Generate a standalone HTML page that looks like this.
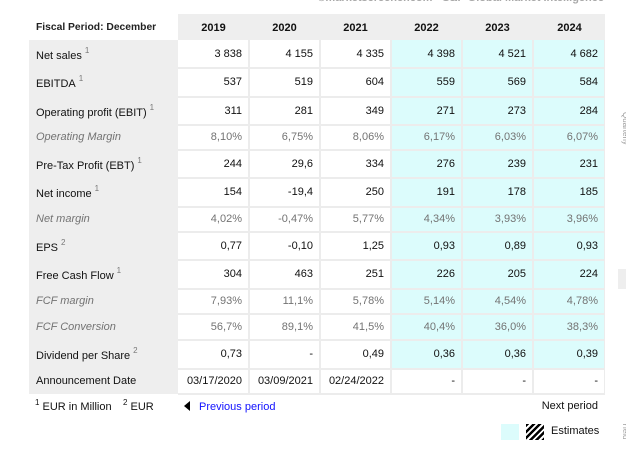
<!DOCTYPE html>
<html>
<head>
<meta charset="utf-8">
<style>
  html,body{margin:0;padding:0}
  body{width:626px;height:454px;position:relative;overflow:hidden;background:#fff;
       font-family:"Liberation Sans",Arial,sans-serif;font-size:11px;color:#111}
  .a{position:absolute}
  .r{position:absolute;left:0;width:626px}
  .r>div{position:absolute;top:0;height:100%;display:flex;align-items:center;line-height:13px;white-space:nowrap}
  .l{left:36px}
  .lb{padding-top:4px;box-sizing:border-box}
  .s{font-size:8px;color:#777;position:relative;top:-6px;margin-left:3px;line-height:0;vertical-align:baseline}
  .c1{right:384px}.c2{right:313px}.c3{right:242px}.c4{right:171px}.c5{right:100px}.c6{right:28px}
  .it{color:#737373}
  .it .l{font-style:italic}
  .hd>div.y{width:71px;justify-content:center;font-weight:bold;padding-top:3px;box-sizing:border-box;color:#111}
  .h{position:absolute;left:178px;width:427px;height:2px;background:#ececec}
  .vl{position:absolute;top:40px;height:354px;width:2px;background:#ececec}
</style>
</head>
<body>
  <!-- cut top source text -->
  <div class="a" style="top:-8px;right:22px;font-weight:bold;font-size:11px;color:#a8a8a8;line-height:13px;white-space:nowrap">©marketscreener.com - S&amp;P Global Market Intelligence</div>

  <!-- backgrounds -->
  <div class="a" style="left:29px;top:40px;width:149px;height:354px;background:#eeeeee"></div>
  <div class="a" style="left:178px;top:14px;width:427px;height:26px;background:#eeeeee"></div>
  <div class="a" style="left:391px;top:40px;width:214px;height:329px;background:#dcfcfc"></div>

  <!-- grid lines -->
  <div class="h" style="top:67px"></div>
  <div class="h" style="top:96px"></div>
  <div class="h" style="top:124px"></div>
  <div class="h" style="top:149px"></div>
  <div class="h" style="top:177px"></div>
  <div class="h" style="top:206px"></div>
  <div class="h" style="top:231px"></div>
  <div class="h" style="top:259px"></div>
  <div class="h" style="top:288px"></div>
  <div class="h" style="top:313px"></div>
  <div class="h" style="top:339px"></div>
  <div class="h" style="top:368px"></div>
  <div class="h" style="top:393px"></div>
  <div class="vl" style="left:248px"></div>
  <div class="vl" style="left:319px"></div>
  <div class="vl" style="left:390px"></div>
  <div class="vl" style="left:461px"></div>
  <div class="vl" style="left:532px"></div>
  <div class="vl" style="left:604px;width:1px"></div>

  <!-- header -->
  <div class="r hd" style="top:14px;height:26px">
    <div class="l" style="font-weight:bold;font-size:10.3px;color:#222">Fiscal Period: December</div>
    <div class="y" style="left:178px">2019</div>
    <div class="y" style="left:249px">2020</div>
    <div class="y" style="left:320px">2021</div>
    <div class="y" style="left:391px">2022</div>
    <div class="y" style="left:462px">2023</div>
    <div class="y" style="left:534px">2024</div>
  </div>

  <div class="r" style="top:40px;height:28px">
    <div class="l lb"><span>Net sales<span class="s">1</span></span></div>
    <div class="c1">3 838</div><div class="c2">4 155</div><div class="c3">4 335</div>
    <div class="c4">4 398</div><div class="c5">4 521</div><div class="c6">4 682</div>
  </div>

  <div class="r" style="top:68px;height:29px">
    <div class="l lb"><span>EBITDA<span class="s">1</span></span></div>
    <div class="c1">537</div><div class="c2">519</div><div class="c3">604</div>
    <div class="c4">559</div><div class="c5">569</div><div class="c6">584</div>
  </div>

  <div class="r" style="top:97px;height:28px">
    <div class="l lb"><span>Operating profit (EBIT)<span class="s">1</span></span></div>
    <div class="c1">311</div><div class="c2">281</div><div class="c3">349</div>
    <div class="c4">271</div><div class="c5">273</div><div class="c6">284</div>
  </div>

  <div class="r it" style="top:125px;height:25px">
    <div class="l"><span>Operating Margin</span></div>
    <div class="c1">8,10%</div><div class="c2">6,75%</div><div class="c3">8,06%</div>
    <div class="c4">6,17%</div><div class="c5">6,03%</div><div class="c6">6,07%</div>
  </div>

  <div class="r" style="top:150px;height:28px">
    <div class="l lb"><span>Pre-Tax Profit (EBT)<span class="s">1</span></span></div>
    <div class="c1">244</div><div class="c2">29,6</div><div class="c3">334</div>
    <div class="c4">276</div><div class="c5">239</div><div class="c6">231</div>
  </div>

  <div class="r" style="top:178px;height:29px">
    <div class="l lb"><span>Net income<span class="s">1</span></span></div>
    <div class="c1">154</div><div class="c2">-19,4</div><div class="c3">250</div>
    <div class="c4">191</div><div class="c5">178</div><div class="c6">185</div>
  </div>

  <div class="r it" style="top:207px;height:25px">
    <div class="l"><span>Net margin</span></div>
    <div class="c1">4,02%</div><div class="c2">-0,47%</div><div class="c3">5,77%</div>
    <div class="c4">4,34%</div><div class="c5">3,93%</div><div class="c6">3,96%</div>
  </div>

  <div class="r" style="top:232px;height:28px">
    <div class="l lb"><span>EPS<span class="s">2</span></span></div>
    <div class="c1">0,77</div><div class="c2">-0,10</div><div class="c3">1,25</div>
    <div class="c4">0,93</div><div class="c5">0,89</div><div class="c6">0,93</div>
  </div>

  <div class="r" style="top:260px;height:29px">
    <div class="l lb"><span>Free Cash Flow<span class="s">1</span></span></div>
    <div class="c1">304</div><div class="c2">463</div><div class="c3">251</div>
    <div class="c4">226</div><div class="c5">205</div><div class="c6">224</div>
  </div>

  <div class="r it" style="top:289px;height:25px">
    <div class="l"><span>FCF margin</span></div>
    <div class="c1">7,93%</div><div class="c2">11,1%</div><div class="c3">5,78%</div>
    <div class="c4">5,14%</div><div class="c5">4,54%</div><div class="c6">4,78%</div>
  </div>

  <div class="r it" style="top:314px;height:26px">
    <div class="l"><span>FCF Conversion</span></div>
    <div class="c1">56,7%</div><div class="c2">89,1%</div><div class="c3">41,5%</div>
    <div class="c4">40,4%</div><div class="c5">36,0%</div><div class="c6">38,3%</div>
  </div>

  <div class="r" style="top:340px;height:29px">
    <div class="l lb"><span>Dividend per Share<span class="s">2</span></span></div>
    <div class="c1">0,73</div><div class="c2">-</div><div class="c3">0,49</div>
    <div class="c4">0,36</div><div class="c5">0,36</div><div class="c6">0,39</div>
  </div>

  <div class="r" style="top:369px;height:25px">
    <div class="l"><span>Announcement Date</span></div>
    <div class="c1">03/17/2020</div><div class="c2">03/09/2021</div><div class="c3">02/24/2022</div>
    <div class="c4">-</div><div class="c5">-</div><div class="c6">-</div>
  </div>

  <!-- footnotes -->
  <div class="a" style="left:35px;top:401px;line-height:13px;white-space:nowrap;color:#111">
    <span style="font-size:8px;position:relative;top:-5px;line-height:0">1</span> EUR in Million
  </div>
  <div class="a" style="left:123px;top:401px;line-height:13px;white-space:nowrap;color:#111">
    <span style="font-size:8px;position:relative;top:-5px;line-height:0">2</span> EUR
  </div>

  <!-- previous period -->
  <div class="a" style="left:184px;top:401px;width:0;height:0;border-top:5px solid transparent;border-bottom:5px solid transparent;border-right:6px solid #000"></div>
  <div class="a" style="left:199px;top:401px;line-height:13px;color:#1111ff;white-space:nowrap">Previous period</div>

  <!-- next period -->
  <div class="a" style="right:28px;top:400px;line-height:13px;color:#111;white-space:nowrap">Next period</div>

  <!-- legend -->
  <div class="a" style="left:501px;top:424px;width:18px;height:16px;background:#dcfcfc"></div>
  <div class="a" style="left:526px;top:424px;width:18px;height:16px;background:repeating-linear-gradient(135deg,#000 0 2.4px,#fff 2.4px 4.4px)"></div>
  <div class="a" style="left:551px;top:425px;line-height:13px;color:#111;white-space:nowrap">Estimates</div>

  <!-- right-side artifacts -->
  <div class="a" style="left:618px;top:269px;width:8px;height:20px;background:#eeeeee"></div>
  <div class="a" style="font-size:8px;color:#9a9a9a;line-height:9px;white-space:nowrap;transform:rotate(90deg);transform-origin:left top;left:630px;top:112px">Quarterly</div>
  <div class="a" style="font-size:8px;color:#a0a0a0;line-height:9px;white-space:nowrap;transform:rotate(90deg);transform-origin:left top;left:630px;top:422px">Yield</div>
</body>
</html>
